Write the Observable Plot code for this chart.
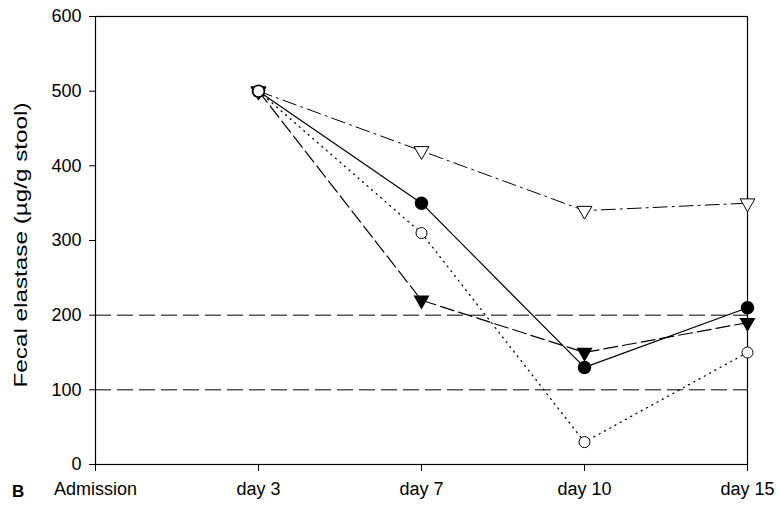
<!DOCTYPE html>
<html>
<head>
<meta charset="utf-8">
<script src="https://cdn.jsdelivr.net/npm/d3@7"></script>
<script src="https://cdn.jsdelivr.net/npm/@observablehq/plot@0.6"></script>
<style>
  html, body { margin: 0; padding: 0; background: #fff; }
  #chart { position: relative; width: 781px; height: 506px; }
  #panel { position: absolute; left: 12px; top: 482px; font: bold 17px "Liberation Sans", Arial, sans-serif; }
</style>
</head>
<body>
<div id="chart"><div id="panel">B</div></div>
<script>
const categories = ["Admission", "day 3", "day 7", "day 10", "day 15"];
const days = ["day 3", "day 7", "day 10", "day 15"];
const filledCircle = [500, 350, 130, 210];
const openCircle = [500, 310, 30, 150];
const filledTriangle = [500, 220, 150, 190];
const openTriangle = [500, 420, 340, 350];
const yTicks = [0, 100, 200, 300, 400, 500, 600];
const refLines = [100, 200];
const yLabel = "Fecal elastase (µg/g stool)";

const series = [
  {name: "filledCircle", values: filledCircle},
  {name: "openCircle", values: openCircle},
  {name: "filledTriangle", values: filledTriangle},
  {name: "openTriangle", values: openTriangle}
];
const rows = series.flatMap(s => s.values.map((v, i) => ({series: s.name, day: days[i], value: v})));
const pick = n => rows.filter(r => r.series === n);

const triangleDown = {
  draw(context, size) {
    const s3 = Math.sqrt(3);
    const y = -Math.sqrt(size / (s3 * 3));
    context.moveTo(0, -y * 2);
    context.lineTo(-s3 * y, y);
    context.lineTo(s3 * y, y);
    context.closePath();
  }
};

const chart = Plot.plot({
  width: 781,
  height: 506,
  marginLeft: 95,
  marginRight: 34,
  marginTop: 16,
  marginBottom: 42,
  style: {fontFamily: "'Liberation Sans', Arial, sans-serif", fontSize: "18px", background: "#fff", color: "#000"},
  x: {type: "point", domain: categories, padding: 0, label: null, tickSize: 7, tickPadding: 11},
  y: {domain: [0, 600], ticks: yTicks, tickSize: 6, tickPadding: 8, label: null},
  marks: [
    Plot.frame({stroke: "#000", strokeWidth: 1.2}),
    Plot.ruleY(refLines, {stroke: "#000", strokeWidth: 1, strokeDasharray: "16,6"}),
    Plot.line(pick("openTriangle"), {x: "day", y: "value", stroke: "#000", strokeWidth: 1, strokeDasharray: "14,5,2,5"}),
    Plot.line(pick("filledTriangle"), {x: "day", y: "value", stroke: "#000", strokeWidth: 1.2, strokeDasharray: "14,5"}),
    Plot.line(pick("openCircle"), {x: "day", y: "value", stroke: "#000", strokeWidth: 1.3, strokeDasharray: "1,5"}),
    Plot.line(pick("filledCircle"), {x: "day", y: "value", stroke: "#000", strokeWidth: 1.2}),
    Plot.dot(pick("openTriangle"), {x: "day", y: "value", symbol: triangleDown, r: 5.5, fill: "#fff", stroke: "#000", strokeWidth: 1}),
    Plot.dot(pick("filledTriangle"), {x: "day", y: "value", symbol: triangleDown, r: 5, fill: "#000", stroke: "#000"}),
    Plot.dot(pick("filledCircle"), {x: "day", y: "value", r: 6, fill: "#000", stroke: "#000"}),
    Plot.dot(pick("openCircle"), {x: "day", y: "value", r: 5.5, fill: "#fff", stroke: "#000", strokeWidth: 1})
  ]
});
document.getElementById("chart").prepend(chart);

// y-axis title, drawn into the plot's SVG
d3.select(chart).append("text")
  .attr("transform", "translate(21,245) rotate(-90)")
  .attr("text-anchor", "middle")
  .attr("dy", "0.35em")
  .attr("fill", "#000")
  .style("font-family", "'Liberation Sans', Arial, sans-serif")
  .style("font-size", "18px")
  .attr("textLength", 285)
  .attr("lengthAdjust", "spacingAndGlyphs")
  .text(yLabel);
</script>
</body>
</html>
